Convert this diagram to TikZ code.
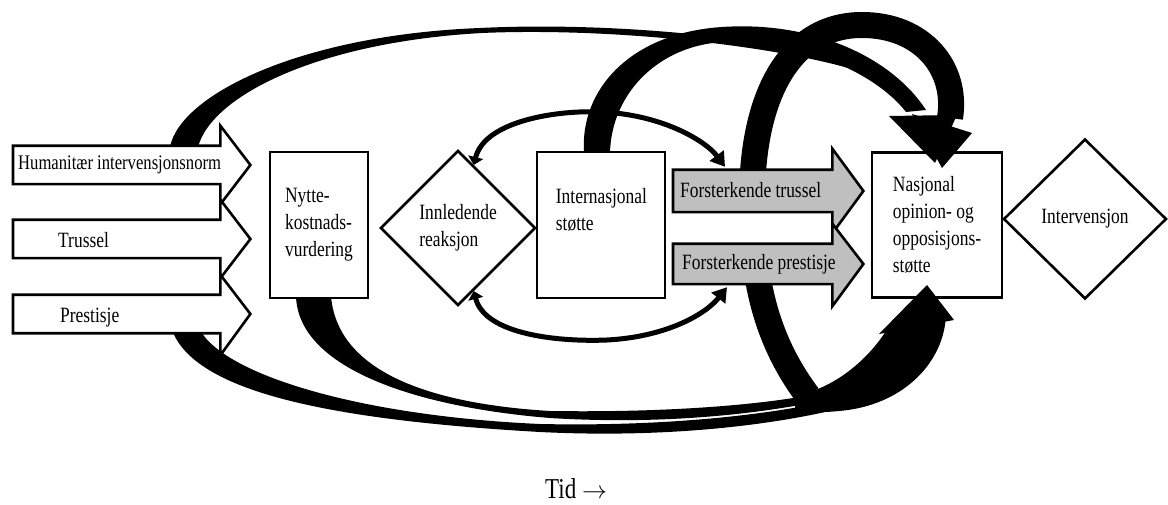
\documentclass[tikz,border=0pt]{standalone}
\usepackage{fontspec}
\setmainfont{Liberation Serif}[FakeStretch=0.8]
\usetikzlibrary{calc}
\usetikzlibrary{shapes.geometric}
\usetikzlibrary{arrows.meta}

\tikzset{
  box/.style = {draw, line width=2.6pt, fill=white, inner sep=0pt, align=left},
  dia/.style = {diamond, aspect=1, draw, line width=2.6pt, fill=white, inner sep=0pt, align=left},
  inbar/.style = {inner sep=0pt, minimum width=207pt, minimum height=38pt},
  gbar/.style = {inner sep=0pt, minimum width=159pt},
  blockarr/.style = {draw, line width=2.6pt, line join=miter},
  lbl/.style = {inner sep=0pt, anchor=base west},
  ringarc/.style = {line width=5pt, {Triangle[length=8pt,width=15pt]}-{Triangle[length=14pt,width=17pt]}}
}

\begin{document}
\begin{tikzpicture}[x=1pt, y=-1pt, font=\fontsize{21.8}{27}\selectfont]
	\useasboundingbox (0,0) rectangle (1168,505);

	% tapered bands, behind everything else
	\fill (170,147) .. controls (180,95) and (300,35) .. (480,28) .. controls (620,21) and (800,40) .. (872,70) .. controls (890,80) and (902,95) .. (908,110) -- (922,110) .. controls (910,92) and (895,83) .. (876,77) .. controls (800,48) and (620,27) .. (482,33) .. controls (320,42) and (212,95) .. (198,147) -- cycle; % humanitaer -> nasjonal
	\fill (584,152) .. controls (580,90) and (630,33) .. (722,27) .. controls (810,21) and (890,55) .. (926,110) -- (906,112) .. controls (875,72) and (800,40) .. (724,42) .. controls (660,45) and (612,92) .. (610,152) -- cycle; % internasjonal -> nasjonal
	\fill (172,330) .. controls (195,392) and (330,420) .. (540,432) .. controls (680,439) and (790,422) .. (850,406) -- (850,396) .. controls (790,412) and (680,427) .. (540,424) .. controls (360,416) and (225,375) .. (200,330) -- cycle; % prestisje -> nasjonal
	\fill (296,296) .. controls (298,368) and (415,407) .. (550,418) .. controls (680,426) and (780,410) .. (830,399) -- (830,391) .. controls (780,403) and (680,413) .. (550,411) .. controls (450,405) and (338,380) .. (331,296) -- cycle; % nytte -> nasjonal
	\fill (795,396) .. controls (835,388) and (868,360) .. (888,328) -- (946,315) .. controls (944,362) and (905,402) .. (848,410) .. controls (825,413) and (805,413) .. (795,408) -- cycle; % joined tail under nasjonal
	\draw[line width=26pt] (808,396) .. controls (762,335) and (752,270) .. (752,200) .. controls (752,95) and (790,25) .. (862,25) .. controls (922,25) and (958,68) .. (950,118); % big loop
	\fill[white] (673,212) rectangle (832,244);

	% inputs on the left
	\node[inbar, anchor=west] (hum) at (13,165) {};
	\draw[blockarr, fill=white] (hum.north west) -- (hum.north east) -- ++(0,-20) -- ($(hum.east)+(30,0)$) -- ($(hum.south east)+(0,20)$) -- (hum.south east) -- (hum.south west) -- cycle;
	\node[lbl, font=\fontsize{20.8}{25}\selectfont] at ($(hum.west)+(5,5)$) {Humanitær intervensjonsnorm};
	\node[inbar, anchor=west] (tru) at (13,239) {};
	\draw[blockarr, fill=white] (tru.north west) -- (tru.north east) -- ++(0,-20) -- ($(tru.east)+(30,0)$) -- ($(tru.south east)+(0,20)$) -- (tru.south east) -- (tru.south west) -- cycle;
	\node[lbl] at ($(tru.west)+(45,9)$) {Trussel};
	\node[inbar, anchor=west] (pre) at (13,314) {};
	\draw[blockarr, fill=white] (pre.north west) -- (pre.north east) -- ++(0,-20) -- ($(pre.east)+(30,0)$) -- ($(pre.south east)+(0,22)$) -- (pre.south east) -- (pre.south west) -- cycle;
	\node[lbl] at ($(pre.west)+(47,9)$) {Prestisje};

	\node[box, minimum width=98pt, minimum height=146pt] (nyt) at (319,225) {Nytte-\\kostnads-\\vurdering};
	\node[dia, minimum width=155pt, minimum height=155pt] (innl) at (458,228) {Innledende\\reaksjon};
	\node[box, minimum width=128pt, minimum height=146pt] (intl) at (601,225) {};
	\node[lbl, anchor=north west, align=left] at ($(intl.north west)+(20,37)$) {Internasjonal\\støtte};

	% reinforcing arrows
	\node[gbar, minimum height=42pt, anchor=west] (ftr) at (673,191) {};
	\draw[blockarr, fill=black!25] (ftr.north west) -- (ftr.north east) -- ++(0,-21) -- ($(ftr.east)+(31,0)$) -- ($(ftr.south east)+(0,21)$) -- (ftr.south east) -- (ftr.south west) -- cycle;
	\node[lbl] at ($(ftr.west)+(7,7)$) {Forsterkende trussel};
	\node[gbar, minimum height=40pt, anchor=west] (fpr) at (673,264) {};
	\draw[blockarr, fill=black!25] (fpr.north west) -- (fpr.north east) -- ++(0,-20) -- ($(fpr.east)+(31,0)$) -- ($(fpr.south east)+(0,22)$) -- (fpr.south east) -- (fpr.south west) -- cycle;
	\node[lbl] at ($(fpr.west)+(9,6)$) {Forsterkende prestisje};

	\node[box, minimum width=130pt, minimum height=145pt] (nas) at (937,225) {Nasjonal\\opinion- og\\opposisjons-\\støtte};
	\node[dia, minimum width=163pt, minimum height=160pt] (intv) at (1085,219) {Intervensjon};

	% arrow heads into nasjonal
	\fill (889,116) -- (935,163) -- (957,115) -- cycle;
	\fill (912,114) -- (942,168) -- (972,133) -- cycle;
	\fill (879,334) -- (927,285) -- (954,320) -- cycle;

	% ring round internasjonal stotte
	\draw[ringarc] ($(innl.north)!0.2!(innl.east)$) .. controls (485,120) and (560,110) .. (600,112) .. controls (660,114) and (705,140) .. ($(ftr.north west)+(52,-3)$);
	\draw[ringarc] ($(innl.south)!0.2!(innl.east)$) .. controls (485,335) and (560,342) .. (607,340) .. controls (665,337) and (705,315) .. ($(fpr.south west)+(54,3)$);

	\node[lbl, font=\fontsize{28.8}{30}\selectfont] (tid) at (545,498) {Tid $\rightarrow$};
\end{tikzpicture}
\end{document}
